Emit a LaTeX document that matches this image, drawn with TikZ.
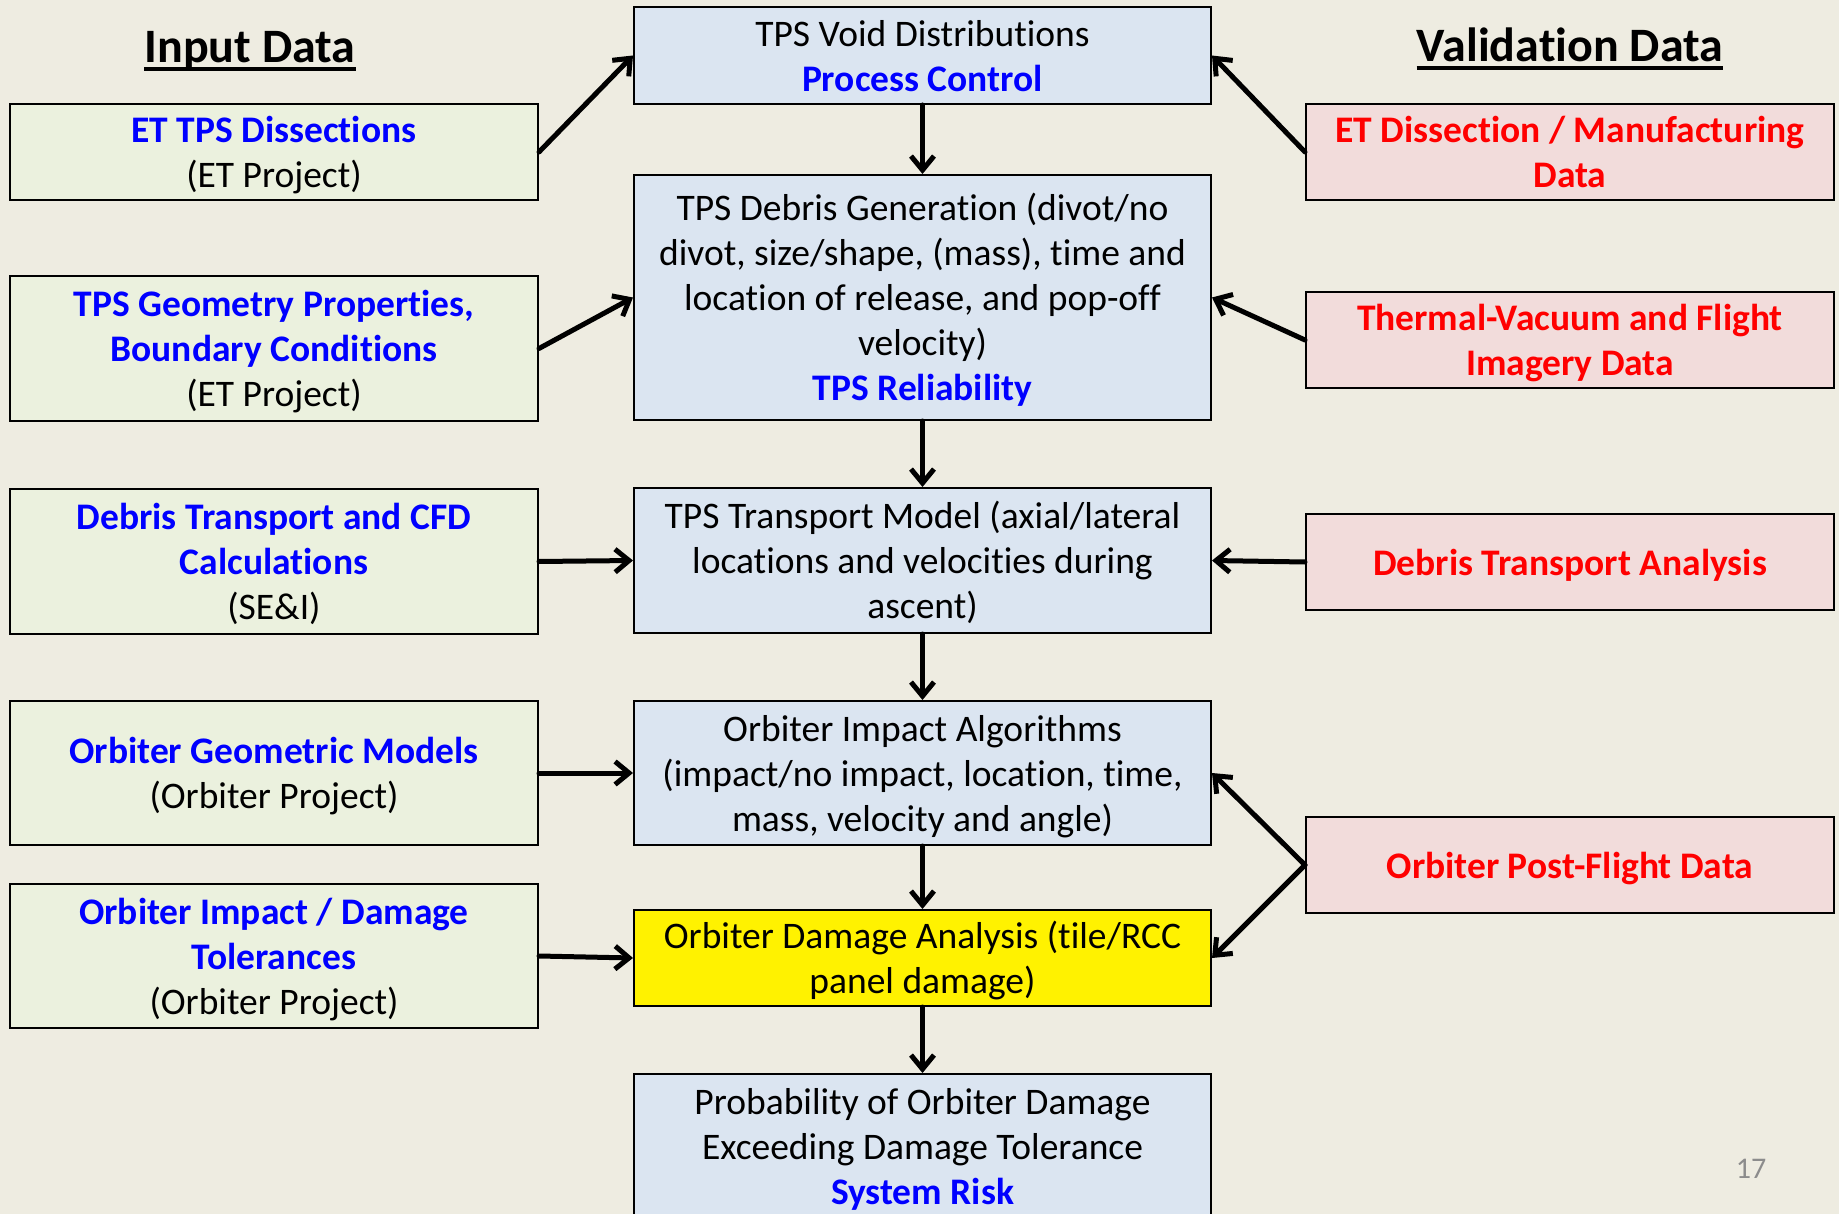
\documentclass[tikz,border=0pt]{standalone}
\usepackage{fontspec}
\setmainfont{Carlito}[Ligatures=NoCommon]
\usetikzlibrary{arrows.meta}
\definecolor{slidebg}{HTML}{EEECE1}
\definecolor{inputfill}{HTML}{EBF1DE}
\definecolor{modelfill}{HTML}{DBE5F1}
\definecolor{checkfill}{HTML}{F2DCDB}
\definecolor{keyblue}{HTML}{0000FF}
\definecolor{keyred}{HTML}{FF0000}
\definecolor{pagegray}{HTML}{8C8C8C}
\newcommand\keyterm[1]{\textcolor{keyblue}{\bfseries #1}}
% fixed line box (ascent + descent = baselineskip), used on first and last lines
\newcommand\lnst{\rule[-9.3pt]{0pt}{45pt}}

\begin{document}
\begin{tikzpicture}[x=1pt,y=-1pt,
  box/.style={draw=black, line width=2pt, rectangle, inner sep=0pt, align=center,
              font=\fontsize{37.5}{45}\selectfont},
  inbox/.style={box, fill=inputfill, minimum width=528pt},
  modbox/.style={box, fill=modelfill, minimum width=577pt},
  valbox/.style={box, fill=checkfill, minimum width=528pt, minimum height=96pt,
                 text=keyred, font=\fontsize{37.5}{45}\selectfont\bfseries},
  flow/.style={-{Straight Barb[length=14pt,width=23pt]}, line width=5pt,
               line cap=round, line join=round},
  heading/.style={font=\fontsize{48}{58}\selectfont\bfseries, anchor=base, inner sep=0pt},
]
\useasboundingbox (0,0) rectangle (1839,1214);
\clip (0,0) rectangle (1839,1214);
\fill[slidebg] (0,0) rectangle (1839,1214);

% column headings
\node[heading] (hin) at (250,63) {Input Data};
\node[heading] (hval) at (1570,62) {Validation Data};
\draw[line width=4pt] ([yshift=-6pt]hin.base west) -- ([yshift=-6pt]hin.base east);
\draw[line width=4pt] ([yshift=-6pt]hval.base west) -- ([yshift=-6pt]hval.base east);

% input data
\node[inbox, minimum height=96pt] (in1) at (274,152)
  {\lnst\keyterm{ET TPS Dissections}\\\lnst(ET Project)};
\node[inbox, minimum height=145pt] (in2) at (274,348.5)
  {\lnst\keyterm{TPS Geometry Properties,}\\\keyterm{Boundary Conditions}\\\lnst(ET Project)};
\node[inbox, minimum height=145pt] (in3) at (274,561.5)
  {\lnst\keyterm{Debris Transport and CFD}\\\keyterm{Calculations}\\\lnst(SE\&I)};
\node[inbox, minimum height=144pt] (in4) at (274,773)
  {\lnst\keyterm{Orbiter Geometric Models}\\\lnst(Orbiter Project)};
\node[inbox, minimum height=144pt] (in5) at (274,956)
  {\lnst\keyterm{Orbiter Impact / Damage}\\\keyterm{Tolerances}\\\lnst(Orbiter Project)};

% analysis chain
\node[modbox, minimum height=97pt] (m1) at (922.5,55.5)
  {\lnst TPS Void Distributions\\\lnst\keyterm{Process Control}};
\node[modbox, minimum height=245pt] (m2) at (922.5,297.5)
  {\lnst TPS Debris Generation (divot/no\\divot, size/shape, (mass), time and\\location of release, and pop-off\\velocity)\\\lnst\keyterm{TPS Reliability}};
\node[modbox, minimum height=145pt] (m3) at (922.5,560.5)
  {\lnst TPS Transport Model (axial/lateral\\locations and velocities during\\\lnst ascent)};
\node[modbox, minimum height=144pt] (m4) at (922.5,773)
  {\lnst Orbiter Impact Algorithms\\(impact/no impact, location, time,\\\lnst mass, velocity and angle)};
\node[modbox, fill=yellow, minimum height=96pt] (m5) at (922.5,958)
  {\lnst Orbiter Damage Analysis (tile/RCC\\\lnst panel damage)};
\node[modbox, minimum height=145pt] (m6) at (922.5,1146.5)
  {\lnst Probability of Orbiter Damage\\Exceeding Damage Tolerance\\\lnst\keyterm{System Risk}};

% validation data
\node[valbox] (v1) at (1570,152) {\lnst ET Dissection / Manufacturing\\\lnst Data};
\node[valbox] (v2) at (1570,340) {\lnst Thermal-Vacuum and Flight\\\lnst Imagery Data};
\node[valbox] (v3) at (1570,562) {\lnst Debris Transport Analysis};
\node[valbox] (v4) at (1570,865) {\lnst Orbiter Post-Flight Data};

% connectors
\draw[flow] (in1.east) -- (m1.west);
\draw[flow] (in2.east) -- (m2.west);
\draw[flow] (in3.east) -- (m3.west);
\draw[flow] (in4.east) -- (m4.west);
\draw[flow] (in5.east) -- (m5.west);

\draw[flow] (m1.south) -- (m2.north);
\draw[flow] (m2.south) -- (m3.north);
\draw[flow] (m3.south) -- (m4.north);
\draw[flow] (m4.south) -- (m5.north);
\draw[flow] (m5.south) -- (m6.north);

\draw[flow] (v1.west) -- (m1.east);
\draw[flow] (v2.west) -- (m2.east);
\draw[flow] (v3.west) -- (m3.east);
\draw[flow] (v4.west) -- (m4.east);
\draw[flow] (v4.west) -- (m5.east);

% slide number
\node[font=\fontsize{30}{36}\selectfont, text=pagegray, anchor=base, inner sep=0pt] (pg) at (1751,1178) {17};
\end{tikzpicture}
\end{document}
